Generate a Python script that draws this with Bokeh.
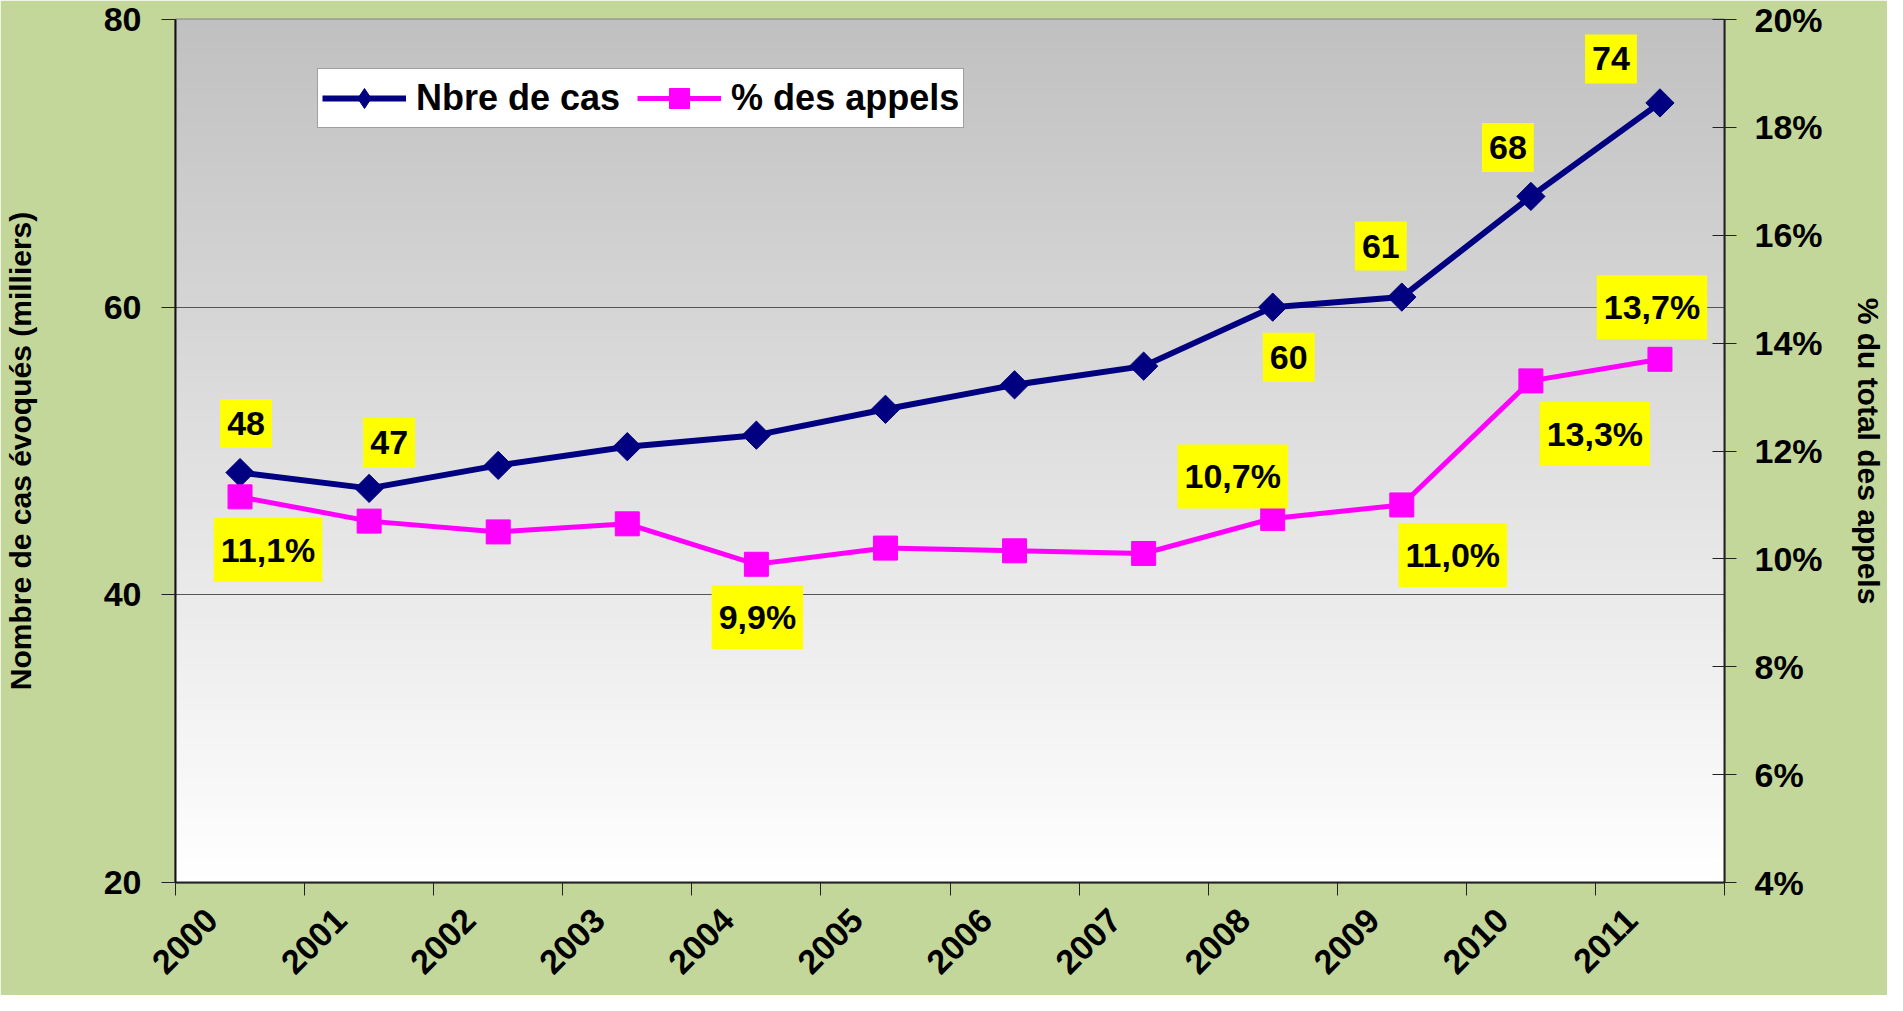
import numpy as np
from bokeh.plotting import figure
from bokeh.models import (Range1d, LinearAxis, FixedTicker, PrintfTickFormatter,
                          CustomJSTickFormatter, ColumnDataSource, Legend, LegendItem)
from bokeh.embed import file_html
from bokeh.resources import INLINE
from bokeh.core.properties import value

# ---------------- data ----------------
years = ["2000", "2001", "2002", "2003", "2004", "2005",
         "2006", "2007", "2008", "2009", "2010", "2011"]
nbre_cas = [48.5, 47.4, 49.0, 50.3, 51.1, 52.9, 54.6, 55.9, 60.0, 60.7, 67.7, 74.2]
pct_appels = [11.15, 10.7, 10.5, 10.65, 9.9, 10.2, 10.15, 10.1, 10.75, 11.0, 13.3, 13.7]
cas_labels = ["48", "47", "", "", "", "", "", "", "60", "61", "68", "74"]
pct_labels = ["11,1%", "", "", "", "9,9%", "", "", "", "10,7%", "11,0%", "13,3%", "13,7%"]
left_ticks = [20, 40, 60, 80]
right_ticks = [4, 6, 8, 10, 12, 14, 16, 18, 20]
left_title = "Nombre de cas évoqués (milliers)"
right_title = "% du total des appels"

# ---------------- style / layout ----------------
FONT = "Liberation Sans"
GREEN = "#c4d79b"
BLUE = "#000080"
MAGENTA = "#ff00ff"
# label offsets (screen px, y down)
cas_dx = [6, 20, 0, 0, 0, 0, 0, 0, 16, -21, -23, -49]
cas_dy = [-49, -46, 0, 0, 0, 0, 0, 0, 50, -51, -49, -44]
pct_dx = [28, 0, 0, 0, 1, 0, 0, 0, -40, 51, 64, -8]
pct_dy = [53, 0, 0, 0, 53, 0, 0, 0, -42, 50, 53, -52]

n = len(years)
xpos = np.arange(n) + 0.5

p = figure(width=1887, height=995,
           x_range=Range1d(0, n), y_range=Range1d(left_ticks[0], left_ticks[-1]),
           output_backend="svg", toolbar_location=None,
           min_border_left=172, min_border_right=160,
           min_border_top=19, min_border_bottom=113,
           border_fill_color=GREEN, background_fill_color="white")
p.extra_y_ranges = {"pct": Range1d(right_ticks[0], right_ticks[-1])}

# background gradient (grey at top -> white at bottom)
NB = 150
edges = np.linspace(left_ticks[0], left_ticks[-1], NB + 1)
band = edges[1] - edges[0]
cols = []
for k in range(NB):
    t = (k + 0.5) / NB
    g = int(round(255 - 63 * t))
    cols.append("#%02x%02x%02x" % (g, g, g))
bg = p.quad(left=0, right=n, bottom=edges[:-1], top=edges[1:] + band * 0.4,
            fill_color=cols, line_color=None)
bg.level = "image"

# grid
p.xgrid.visible = False
p.ygrid.ticker = FixedTicker(ticks=left_ticks[1:-1])
p.ygrid.grid_line_color = "#555555"
p.ygrid.grid_line_width = 1

p.outline_line_color = "#808080"
p.outline_line_width = 2

# series
src = ColumnDataSource(dict(x=xpos, cas=nbre_cas, pct=pct_appels))
l1 = p.line("x", "cas", source=src, line_color=BLUE, line_width=6)
s1 = p.scatter("x", "cas", source=src, marker="square", angle=np.pi / 4,
               size=20, fill_color=BLUE, line_color=BLUE)
l2 = p.line("x", "pct", source=src, line_color=MAGENTA, line_width=5, y_range_name="pct")
s2 = p.scatter("x", "pct", source=src, marker="square", size=24,
               fill_color=MAGENTA, line_color=MAGENTA, y_range_name="pct")
# legend-only diamond marker (placed outside the visible ranges)
leg_d = p.scatter(x=[-5], y=[-5], marker="diamond", fill_color=BLUE, line_color=BLUE)

# data labels
ci = [i for i, t in enumerate(cas_labels) if t]
csrc = ColumnDataSource(dict(x=[xpos[i] for i in ci], y=[nbre_cas[i] for i in ci],
                             t=[cas_labels[i] for i in ci],
                             dx=[cas_dx[i] for i in ci], dy=[cas_dy[i] for i in ci]))
p.text("x", "y", text="t", x_offset="dx", y_offset="dy", source=csrc,
       text_font=value(FONT), text_font_style="bold", text_font_size="34px",
       text_color="black", text_align="center", text_baseline="middle",
       background_fill_color="#ffff00", padding=(7, 13))
pi_ = [i for i, t in enumerate(pct_labels) if t]
psrc = ColumnDataSource(dict(x=[xpos[i] for i in pi_], y=[pct_appels[i] for i in pi_],
                             t=[pct_labels[i] for i in pi_],
                             dx=[pct_dx[i] for i in pi_], dy=[pct_dy[i] for i in pi_]))
p.text("x", "y", text="t", x_offset="dx", y_offset="dy", source=psrc, y_range_name="pct",
       text_font=value(FONT), text_font_style="bold", text_font_size="34px",
       text_color="black", text_align="center", text_baseline="middle",
       background_fill_color="#ffff00", padding=(7, 13))

# axes
def style_axis(ax):
    ax.major_label_text_font = FONT
    ax.major_label_text_font_style = "bold"
    ax.major_label_text_font_size = "34px"
    ax.major_label_text_color = "black"
    ax.axis_label_text_font = FONT
    ax.axis_label_text_font_style = "bold"
    ax.axis_label_text_font_size = "30px"
    ax.axis_label_text_color = "black"
    ax.minor_tick_line_color = None
    ax.major_tick_line_color = "#222222"
    ax.major_tick_line_width = 1

ya = p.yaxis[0]
ya.ticker = FixedTicker(ticks=left_ticks)
style_axis(ya)
ya.major_tick_in = 0
ya.major_tick_out = 14
ya.major_label_standoff = 20
ya.axis_label = left_title
ya.axis_label_standoff = 64
ya.axis_line_color = "#111111"
ya.axis_line_width = 2

ra = LinearAxis(y_range_name="pct", ticker=FixedTicker(ticks=right_ticks),
                formatter=PrintfTickFormatter(format="%d%%"))
style_axis(ra)
ra.major_tick_in = 12
ra.major_tick_out = 12
ra.major_label_standoff = 18
ra.axis_label = right_title
ra.axis_label_standoff = 26
ra.axis_line_color = "#222222"
ra.axis_line_width = 2
p.add_layout(ra, "right")

# x axis: boundary ticks as minor ticks, rotated year labels
xa = p.xaxis[0]
xa.ticker = FixedTicker(ticks=[i + 0.28 for i in range(n)],
                        minor_ticks=list(range(n + 1)))
xa.formatter = CustomJSTickFormatter(args=dict(years=years), code="""
    var y = years[Math.floor(tick)];
    return (y === undefined) ? '' : y;
""")
style_axis(xa)
xa.major_label_orientation = np.pi / 4
xa.major_tick_in = 0
xa.major_tick_out = 0
xa.major_tick_line_color = None
xa.minor_tick_in = 0
xa.minor_tick_out = 13
xa.minor_tick_line_color = "#222222"
xa.minor_tick_line_width = 1
xa.major_label_standoff = 19
xa.axis_line_color = "#222222"
xa.axis_line_width = 2

# legend
legend = Legend(items=[LegendItem(label="Nbre de cas", renderers=[l1, leg_d]),
                       LegendItem(label="% des appels", renderers=[l2, s2])],
                orientation="horizontal", location=(142, 754),
                glyph_width=84, glyph_height=50, label_standoff=10, spacing=17,
                padding=4, margin=0,
                border_line_color="#404040", border_line_width=1,
                background_fill_color="white", background_fill_alpha=1.0,
                label_text_font=FONT, label_text_font_style="bold",
                label_text_font_size="36px", label_text_color="black")
p.add_layout(legend)

open("out.html", "w").write(file_html(p, INLINE))
